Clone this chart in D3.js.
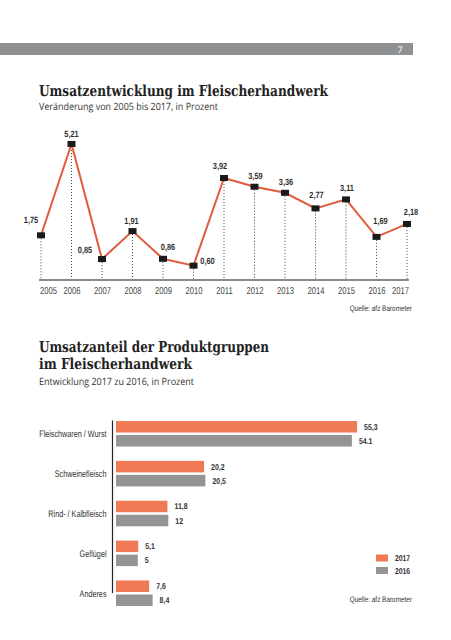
<!DOCTYPE html>
<html><head><meta charset="utf-8">
<script src="https://cdn.jsdelivr.net/npm/d3@7"></script>
<style>
html,body{margin:0;padding:0;background:#fff;}
svg{display:block;}
</style></head>
<body>
<script>
// ---- Data ----
const years = ["2005","2006","2007","2008","2009","2010","2011","2012","2013","2014","2015","2016","2017"];
const growth = [1.75,5.21,0.85,1.91,0.86,0.60,3.92,3.59,3.36,2.77,3.11,1.69,2.18];
const growthLabels = ["1,75","5,21","0,85","1,91","0,86","0,60","3,92","3,59","3,36","2,77","3,11","1,69","2,18"];

const categories = ["Fleischwaren / Wurst","Schweinefleisch","Rind- / Kalbfleisch","Geflügel","Anderes"];
const share2017 = [55.3,20.2,11.8,5.1,7.6];
const share2016 = [54.1,20.5,12,5,8.4];
const share2017Labels = ["55,3","20,2","11,8","5,1","7,6"];
const share2016Labels = ["54.1","20,5","12","5","8,4"];
const seriesNames = ["2017","2016"];

// ---- Layout ----
const W = 451, H = 640;
const serif = "'DejaVu Serif Condensed', 'DejaVu Serif', serif";
const sans = "'Open Sans', 'Noto Sans', sans-serif";
const narrow = "'Liberation Sans', Arial, sans-serif";
const orange = "#f07a55", gray = "#949494", lineCol = "#e05a3c", txt = "#2e2e2e";

// horizontally squeeze text to mimic a condensed face
function squeeze(sel, k) {
  sel.each(function() {
    const t = d3.select(this);
    const x = +t.attr("x") || 0, y = +t.attr("y") || 0;
    t.attr("x", 0).attr("y", 0).attr("transform", `translate(${x},${y}) scale(${k},1)`);
  });
}

const svg = d3.select("body").append("svg").attr("width", W).attr("height", H)
  .style("text-rendering","geometricPrecision");

// header band
svg.append("rect").attr("x",0).attr("y",43).attr("width",413).attr("height",12).attr("fill","#8f9092");
svg.append("text").attr("x",400).attr("y",52.5).attr("text-anchor","middle").attr("fill","#fff")
  .style("font-family",sans).style("font-size","9px").text("7");

// titles
function title(t, xx, yy, len) {
  svg.append("text").attr("x",xx).attr("y",yy).attr("textLength",len).attr("lengthAdjust","spacingAndGlyphs")
    .style("font-family",serif).style("font-weight","bold").style("font-size","15px").attr("fill","#222")
    .text(t);
}
function subtitle(t, xx, yy, len) {
  svg.append("text").attr("x",xx).attr("y",yy).attr("textLength",len).attr("lengthAdjust","spacingAndGlyphs")
    .style("font-family",sans).style("font-size","10px").attr("fill","#333").text(t);
}
title("Umsatzentwicklung im Fleischerhandwerk", 39, 96, 289);
subtitle("Veränderung von 2005 bis 2017, in Prozent", 39, 110, 179);

// ---- Line chart ----
const x = d3.scalePoint().domain(years).range([41,407]);
const y = d3.scaleLinear().domain([0,6]).range([281.5,281.5-6*26.4]);
const axisY = 280;

// dotted verticals
svg.append("g").selectAll("line").data(years).join("line")
  .attr("x1",d=>x(d)).attr("x2",d=>x(d))
  .attr("y1",(d,i)=>y(growth[i])).attr("y2",axisY)
  .attr("stroke","#444").attr("stroke-width",1).attr("stroke-dasharray","1,2");

// axis
const xAxis = d3.axisBottom(x).tickSize(0).tickPadding(7);
const gx = svg.append("g").attr("transform",`translate(0,${axisY})`).call(xAxis);
gx.select(".domain").remove();
svg.append("line").attr("x1",39).attr("x2",409).attr("y1",axisY).attr("y2",axisY)
  .attr("stroke","#8a8a8a").attr("stroke-width",2);
gx.selectAll("text").style("font-family",narrow).style("font-size","10px").attr("fill","#444")
  .attr("dy",null).attr("y",14)
  .attr("text-anchor",(d,i)=> i===0 ? "start" : (i===years.length-1 ? "end" : "middle"))
  .attr("x",(d,i)=> i===0 ? -1.5 : (i===years.length-1 ? 1.5 : 0))
  .call(squeeze, 0.76);

// line
const line = d3.line().x((d,i)=>x(years[i])).y(d=>y(d));
svg.append("path").datum(growth).attr("d",line).attr("fill","none")
  .attr("stroke",lineCol).attr("stroke-width",2);

// markers
svg.append("g").selectAll("rect").data(growth).join("rect")
  .attr("x",(d,i)=>x(years[i])-4).attr("y",d=>y(d)-3)
  .attr("width",8).attr("height",6).attr("fill","#1a1a1a");

// value labels (offsets relative to marker)
const labelDx = [-10,0,-17,-1,5,14,-4,1,1,1,1,4,4];
const labelDy = [-12,-6.5,-6,-7,-9,-1.5,-9,-8,-8,-10,-8,-13,-8.5];
svg.append("g").selectAll("text").data(growth).join("text")
  .attr("x",(d,i)=>x(years[i])+labelDx[i]).attr("y",(d,i)=>y(d)+labelDy[i])
  .attr("text-anchor","middle").style("font-family",narrow).style("font-weight","bold")
  .style("font-size","9px").attr("fill",txt).text((d,i)=>growthLabels[i])
  .call(squeeze, 0.82);

svg.append("text").attr("x",412).attr("y",311).attr("text-anchor","end")
  .style("font-family",narrow).style("font-size","8px").attr("fill","#333").text("Quelle: afz Barometer")
  .call(squeeze, 0.8);

// ---- Bar chart titles ----
title("Umsatzanteil der Produktgruppen", 39, 352, 230);
title("im Fleischerhandwerk", 39, 369, 153);
subtitle("Entwicklung 2017 zu 2016, in Prozent", 39, 385, 155);

// ---- Bar chart ----
const xb = d3.scaleLinear().domain([0,60]).range([116,116+60*4.36]);
const yb = d3.scaleBand().domain(categories).range([421,421+5*37]).paddingInner(13.3/37).paddingOuter(0).align(0);
const ys = d3.scaleBand().domain(seriesNames).range([0,yb.bandwidth()]).paddingInner(0.18);

const grp = svg.append("g").selectAll("g").data(categories).join("g")
  .attr("transform",d=>`translate(0,${yb(d)})`);
grp.append("rect").attr("x",xb(0)).attr("y",ys("2017")).attr("height",ys.bandwidth())
  .attr("width",(d,i)=>xb(share2017[i])-xb(0)).attr("fill",orange);
grp.append("rect").attr("x",xb(0)).attr("y",ys("2016")).attr("height",ys.bandwidth())
  .attr("width",(d,i)=>xb(share2016[i])-xb(0)).attr("fill",gray);
grp.append("text").attr("x",(d,i)=>xb(share2017[i])+7).attr("y",ys("2017")+ys.bandwidth()/2+3)
  .style("font-family",narrow).style("font-weight","bold").style("font-size","8.5px")
  .attr("fill",txt).text((d,i)=>share2017Labels[i]).call(squeeze, 0.82);
grp.append("text").attr("x",(d,i)=>xb(share2016[i])+7).attr("y",ys("2016")+ys.bandwidth()/2+3)
  .style("font-family",narrow).style("font-weight","bold").style("font-size","8.5px")
  .attr("fill",txt).text((d,i)=>share2016Labels[i]).call(squeeze, 0.82);

// category axis
const yAxis = d3.axisLeft(yb).tickSize(0).tickPadding(6);
const gy = svg.append("g").attr("transform","translate(112.5,0)").call(yAxis);
gy.select(".domain").remove();
svg.append("line").attr("x1",112.5).attr("x2",112.5).attr("y1",420.5).attr("y2",593)
  .attr("stroke","#222").attr("stroke-width",1.2);
gy.selectAll("text").style("font-family",narrow).style("font-size","9.5px").attr("fill","#333")
  .attr("dy",null).attr("x",-6).attr("y",3.3)
  .call(squeeze, 0.76);

// legend
const leg = svg.append("g").selectAll("g").data(seriesNames).join("g")
  .attr("transform",(d,i)=>`translate(376,${554.5+i*12.5})`);
leg.append("rect").attr("width",12).attr("height",7).attr("fill",(d,i)=>i===0?orange:gray);
leg.append("text").attr("x",19).attr("y",6.5).style("font-family",narrow)
  .style("font-weight","bold").style("font-size","8.5px").attr("fill",txt).text(d=>d)
  .call(squeeze, 0.8);

svg.append("text").attr("x",412).attr("y",601.5).attr("text-anchor","end")
  .style("font-family",narrow).style("font-size","8px").attr("fill","#333").text("Quelle: afz Barometer")
  .call(squeeze, 0.8);
</script>
</body></html>
